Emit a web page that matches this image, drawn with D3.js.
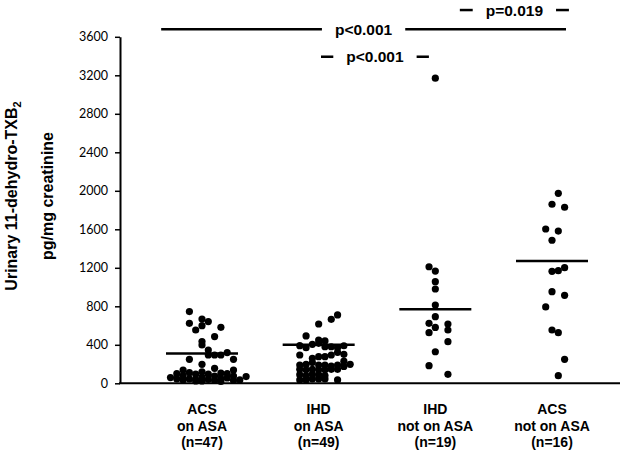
<!DOCTYPE html>
<html><head><meta charset="utf-8">
<script src="https://cdn.jsdelivr.net/npm/d3@7"></script>
<style>body{margin:0;background:#fff}svg{display:block}</style>
</head><body>
<svg id="chart" width="622" height="453"></svg>
<script>
// ---------- data ----------
const categories = ["ACS on ASA", "IHD on ASA", "IHD not on ASA", "ACS not on ASA"];
const labelLine1 = ["ACS", "IHD", "IHD", "ACS"];
const labelLine2 = ["on ASA", "on ASA", "not on ASA", "not on ASA"];
const labelLine3 = ["(n=47)", "(n=49)", "(n=19)", "(n=16)"];
const groupMeans = [310, 400, 770, 1270];
const yTicks = [0, 400, 800, 1200, 1600, 2000, 2400, 2800, 3200, 3600];

// values (pg/mg creatinine) and jitter column of each dot as in the original scatter
const acsAsaValues = [745, 623, 668, 641, 599, 554, 582, 485, 433, 398, 346, 294, 294, 294, 319, 249, 249, 197, 156, 138, 138,
  60, 100, 45, 80, 35, 110, 45, 95, 40, 120, 65, 25, 95, 40, 75, 30, 105, 50, 100, 55, 75, 30, 35, 70, 25, 20];
const acsAsaJitter = [-2, -2, 0, 1, 0, -1, 3, 2, 0, 0, 1, 1, 2, 3, 4, -2, 5, 0, 2, 5, -3,
  -5, -4, -4, -3, -3, -2, -2, -1, -1, 0, 0, 0, 1, 1, 2, 2, 3, 3, 4, 4, 5, 5, 6, 7, -1, 3];

const ihdAsaValues = [391, 294, 190, 145, 90, 35,
  492, 370, 196, 140, 80, 35,
  405, 260, 215, 145, 95, 45,
  616, 450, 415, 277, 190, 140, 87, 45,
  440, 380, 277, 190, 140, 80, 45,
  665, 380, 294, 180, 145,
  710, 370, 322, 190, 145, 35,
  390, 301, 230, 175,
  197];
const ihdAsaJitter = [-3, -3, -3, -3, -3, -3,
  -2, -2, -2, -2, -2, -2,
  -1, -1, -1, -1, -1, -1,
  0, 0, 0, 0, 0, 0, 0, 0,
  1, 1, 1, 1, 1, 1, 1,
  2, 2, 2, 2, 2,
  3, 3, 3, 3, 3, 3,
  4, 4, 4, 4,
  5];

const ihdNoAsaValues = [1211, 1166, 1056, 980, 813, 692, 623, 581, 616, 554, 526, 432, 328, 183, 93, 3170];
const ihdNoAsaJitter = [-1, 0, 0, 0, 0, 0, -1, 0, 2, 2, -1, 2, 0, -1, 2, 0];

const acsNoAsaValues = [1974, 1860, 1829, 1603, 1582, 1486, 1163, 1170, 1201, 952, 914, 793, 554, 526, 249, 79];
const acsNoAsaJitter = [1, 0, 2, -1, 1, 0, 0, 1, 2, 0, 2, -1, 0, 1, 2, 1];

// significance brackets: start/end in category-index units, level in data units
const compLabels = ["p<0.001", "p<0.001", "p=0.019"];
const compStart = [-0.35, 1.02, 2.21];
const compEnd = [3.12, 1.945, 3.145];
const compLevel = [3678, 3393, 3878];

// ---------- drawing ----------
const svg = d3.select("#chart");
svg.append("rect").attr("width", 622).attr("height", 453).attr("fill", "#fff");

const y = d3.scaleLinear().domain([0, 3600]).range([383.3, 36.8]);
const x = d3.scalePoint().domain(categories).range([202, 552]);
const xi = d3.scaleLinear().domain([0, categories.length - 1]).range([202, 552]);
const jitterStep = 6.3;

// y axis
const yAxis = svg.append("g").attr("transform", "translate(120,0)")
  .call(d3.axisLeft(y).tickValues(yTicks).tickSize(5).tickPadding(7).tickSizeOuter(0).tickFormat(d3.format("d")));
yAxis.select(".domain").attr("stroke", "#000").attr("stroke-width", 2);
yAxis.selectAll(".tick line").attr("stroke", "#000").attr("stroke-width", 1.5);
yAxis.selectAll(".tick text").attr("fill", "#000")
  .style("font-family", "Lato, 'Open Sans', sans-serif").style("font-size", "12.5px");

// x axis line
svg.append("line").attr("x1", 119).attr("x2", 620).attr("y1", y(0)).attr("y2", y(0))
  .attr("stroke", "#000").attr("stroke-width", 2);

// dots
const groups = [
  { values: acsAsaValues, jitter: acsAsaJitter },
  { values: ihdAsaValues, jitter: ihdAsaJitter },
  { values: ihdNoAsaValues, jitter: ihdNoAsaJitter },
  { values: acsNoAsaValues, jitter: acsNoAsaJitter }
];
groups.forEach((g, gi) => {
  const pts = g.values.map((v, i) => ({ v, j: g.jitter[i] }));
  svg.append("g").selectAll("circle").data(pts).join("circle")
    .attr("cx", d => x(categories[gi]) + d.j * jitterStep)
    .attr("cy", d => y(d.v))
    .attr("r", 3.6)
    .attr("fill", "#000");
});

// mean lines
svg.append("g").selectAll("line").data(groupMeans).join("line")
  .attr("x1", (d, i) => x(categories[i]) - 36)
  .attr("x2", (d, i) => x(categories[i]) + 36)
  .attr("y1", d => y(d)).attr("y2", d => y(d))
  .attr("stroke", "#000").attr("stroke-width", 2.5);

// category labels
const catG = svg.append("g").style("font-family", "'Liberation Sans', Arial, sans-serif")
  .style("font-weight", "bold").style("font-size", "14px").attr("text-anchor", "middle");
categories.forEach((c, i) => {
  const t = catG.append("text").attr("x", x(c));
  [labelLine1[i], labelLine2[i], labelLine3[i]].forEach((s, k) => {
    t.append("tspan").attr("x", x(c)).attr("y", 414 + k * 16.5).text(s);
  });
});

// significance brackets
compLabels.forEach((lab, i) => {
  const x1 = xi(compStart[i]), x2 = xi(compEnd[i]), yy = y(compLevel[i]);
  const mid = (x1 + x2) / 2;
  const t = svg.append("text").attr("x", mid).attr("y", yy).attr("dy", "0.36em")
    .attr("text-anchor", "middle")
    .style("font-family", "'Liberation Sans', Arial, sans-serif")
    .style("font-weight", "bold").style("font-size", "15.5px").text(lab);
  const w = t.node().getComputedTextLength();
  const gap = w / 2 + 13;
  svg.append("line").attr("x1", x1).attr("x2", mid - gap).attr("y1", yy).attr("y2", yy)
    .attr("stroke", "#000").attr("stroke-width", 2.5);
  svg.append("line").attr("x1", mid + gap).attr("x2", x2).attr("y1", yy).attr("y2", yy)
    .attr("stroke", "#000").attr("stroke-width", 2.5);
});

// y axis titles
const t1 = svg.append("text").attr("transform", "translate(16.5,196) rotate(-90)")
  .attr("text-anchor", "middle")
  .style("font-family", "'Liberation Sans', Arial, sans-serif")
  .style("font-weight", "bold").style("font-size", "16px");
t1.append("tspan").text("Urinary 11-dehydro-TXB");
t1.append("tspan").attr("dy", 4).style("font-size", "11px").text("2");

svg.append("text").attr("transform", "translate(53,196) rotate(-90)")
  .attr("text-anchor", "middle")
  .style("font-family", "'Liberation Sans', Arial, sans-serif")
  .style("font-weight", "bold").style("font-size", "16px")
  .text("pg/mg creatinine");
</script>
</body></html>
